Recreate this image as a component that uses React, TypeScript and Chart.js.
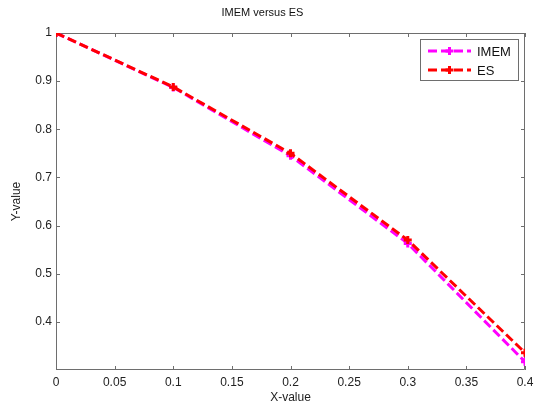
import React, { useEffect, useRef } from "react";
import { Chart, registerables } from "chart.js";

Chart.register(...registerables);

const xValues = [0, 0.1, 0.2, 0.3, 0.4];
const imemValues = [1, 0.887, 0.745, 0.563, 0.317];
const esValues = [1, 0.888, 0.75, 0.57, 0.336];
const seriesLabels = ["IMEM", "ES"];
const seriesColors = ["#ff00ff", "#ff0000"];
const yTickValues = [0.4, 0.5, 0.6, 0.7, 0.8, 0.9, 1];

const FONT = "'Liberation Sans', Arial, sans-serif";
const AXIS_COLOR = "#6e6e6e";
const DASH = [9, 4];

const fmt = (v: number) => String(Number(v.toFixed(2)));

const boxPlugin = {
  id: "matlabBox",
  beforeDatasetsDraw(chart: any) {
    const { ctx, chartArea } = chart;
    const { left, right, top, bottom } = chartArea;
    const xs = chart.scales.x;
    const ys = chart.scales.y;
    ctx.save();
    ctx.strokeStyle = AXIS_COLOR;
    ctx.lineWidth = 1;
    ctx.beginPath();
    ctx.rect(left + 0.5, top + 0.5, right - left - 1, bottom - top - 1);
    ctx.stroke();
    const len = 4;
    ctx.beginPath();
    xs.ticks.forEach((t: any) => {
      const px = Math.round(xs.getPixelForValue(t.value)) + 0.5;
      ctx.moveTo(px, bottom);
      ctx.lineTo(px, bottom - len);
      ctx.moveTo(px, top);
      ctx.lineTo(px, top + len);
    });
    ys.ticks.forEach((t: any) => {
      const py = Math.round(ys.getPixelForValue(t.value)) + 0.5;
      ctx.moveTo(left, py);
      ctx.lineTo(left + len, py);
      ctx.moveTo(right, py);
      ctx.lineTo(right - len, py);
    });
    ctx.stroke();
    ctx.restore();
  },
  afterDatasetsDraw(chart: any) {
    const { ctx, chartArea } = chart;
    const bw = 99;
    const bh = 42;
    const bx = chartArea.right - 6 - bw;
    const by = chartArea.top + 6;
    ctx.save();
    ctx.fillStyle = "#ffffff";
    ctx.fillRect(bx, by, bw, bh);
    ctx.strokeStyle = AXIS_COLOR;
    ctx.lineWidth = 1;
    ctx.strokeRect(bx + 0.5, by + 0.5, bw - 1, bh - 1);
    seriesLabels.forEach((label, i) => {
      const cy = by + 12 + i * 19;
      const x0 = bx + 8;
      const x1 = bx + 51;
      ctx.strokeStyle = seriesColors[i];
      ctx.lineWidth = 3;
      ctx.setLineDash(DASH);
      ctx.beginPath();
      ctx.moveTo(x0, cy);
      ctx.lineTo(x1, cy);
      ctx.stroke();
      ctx.setLineDash([]);
      const mx = (x0 + x1) / 2;
      ctx.beginPath();
      ctx.moveTo(mx - 4, cy);
      ctx.lineTo(mx + 4, cy);
      ctx.moveTo(mx, cy - 4);
      ctx.lineTo(mx, cy + 4);
      ctx.stroke();
      ctx.fillStyle = "#111";
      ctx.font = `13px ${FONT}`;
      ctx.textBaseline = "middle";
      ctx.textAlign = "left";
      ctx.fillText(label, bx + 57, cy + 1);
    });
    ctx.restore();
  },
};

export default function App() {
  const ref = useRef<HTMLCanvasElement | null>(null);
  useEffect(() => {
    if (!ref.current) return;
    const mk = (ys: number[]) => xValues.map((x, i) => ({ x, y: ys[i] }));
    const chart = new Chart(ref.current, {
      type: "line",
      data: {
        datasets: [
          {
            label: seriesLabels[0],
            data: mk(imemValues),
            borderColor: seriesColors[0],
            backgroundColor: seriesColors[0],
            borderWidth: 3,
            borderDash: DASH,
            pointStyle: "cross",
            pointRadius: 4,
            pointBorderWidth: 3,
            pointBorderColor: seriesColors[0],
            fill: false,
            tension: 0,
            order: 2,
          },
          {
            label: seriesLabels[1],
            data: mk(esValues),
            borderColor: seriesColors[1],
            backgroundColor: seriesColors[1],
            borderWidth: 3,
            borderDash: DASH,
            pointStyle: "cross",
            pointRadius: 4,
            pointBorderWidth: 3,
            pointBorderColor: seriesColors[1],
            fill: false,
            tension: 0,
            order: 1,
          },
        ],
      },
      options: {
        animation: false,
        responsive: true,
        maintainAspectRatio: false,
        layout: { padding: { left: 0, right: 11, top: 0, bottom: 0 } },
        plugins: {
          legend: { display: false },
          tooltip: { enabled: false },
          title: {
            display: true,
            text: "IMEM versus ES",
            color: "#111",
            font: { family: FONT, size: 11, weight: "normal" },
            padding: { top: 6, bottom: 13.8 },
          },
        },
        scales: {
          x: {
            type: "linear",
            min: 0,
            max: 0.4,
            grid: { display: false, drawTicks: false },
            border: { display: false },
            ticks: {
              stepSize: 0.05,
              color: "#222",
              font: { family: FONT, size: 12 },
              padding: 5,
              maxRotation: 0,
              autoSkip: false,
              callback: (v: any) => fmt(Number(v)),
            },
            title: {
              display: true,
              text: "X-value",
              color: "#222",
              font: { family: FONT, size: 12 },
              padding: { top: 4, bottom: 3 },
            },
            afterFit: (s: any) => {
              s.height = 38;
              s.paddingLeft = 0;
              s.paddingRight = 0;
            },
          },
          y: {
            type: "linear",
            min: 0.3,
            max: 1,
            grid: { display: false, drawTicks: false },
            border: { display: false },
            afterBuildTicks: (s: any) => {
              s.ticks = yTickValues.map((v) => ({ value: v }));
            },
            ticks: {
              color: "#222",
              font: { family: FONT, size: 12 },
              padding: 4,
              autoSkip: false,
              callback: (v: any) => fmt(Number(v)),
            },
            title: {
              display: true,
              text: "Y-value",
              color: "#222",
              font: { family: FONT, size: 12 },
              padding: { top: 9, bottom: 4 },
            },
            afterFit: (s: any) => {
              s.width = 56;
              s.paddingTop = 0;
              s.paddingBottom = 0;
            },
          },
        },
      },
      plugins: [boxPlugin],
    });
    return () => chart.destroy();
  }, []);
  return (
    <div style={{ position: "fixed", left: 0, top: 0, width: 536, height: 408, background: "#fff" }}>
      <canvas ref={ref} />
    </div>
  );
}
